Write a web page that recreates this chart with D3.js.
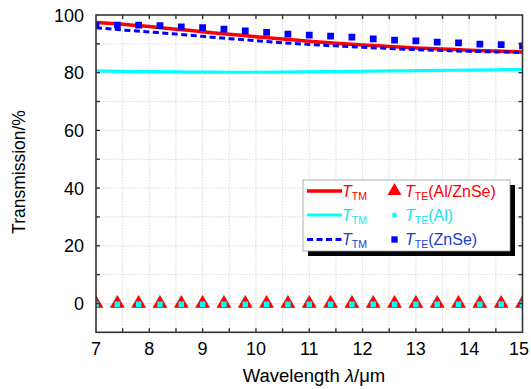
<!DOCTYPE html>
<html>
<head>
<meta charset="utf-8">
<script src="https://cdn.jsdelivr.net/npm/d3@7/dist/d3.min.js"></script>
<style>
  html, body { margin: 0; padding: 0; background: #fff; }
  svg { display: block; font-family: "Liberation Sans", Arial, sans-serif; }
</style>
</head>
<body>
<svg id="chart" width="531" height="389"></svg>
<script>
// Wavelength samples for the TM curves (µm)
const wavelength = [7, 7.5, 8, 8.5, 9, 9.5, 10, 10.5, 11, 11.5, 12, 12.5, 13, 13.5, 14, 14.5, 15];
// TM transmission (%)
const tmAlZnSe = [97.4, 96.8, 96.0, 95.1, 94.2, 93.3, 92.5, 91.7, 90.9, 90.2, 89.6, 89.1, 88.6, 88.2, 87.8, 87.5, 87.2];
const tmAl     = [80.6, 80.45, 80.35, 80.25, 80.2, 80.15, 80.15, 80.2, 80.3, 80.4, 80.5, 80.6, 80.7, 80.8, 80.9, 81.0, 81.1];
const tmZnSe   = [95.6, 94.8, 94.1, 93.4, 92.6, 91.8, 91.1, 90.4, 89.8, 89.3, 88.8, 88.4, 88.0, 87.7, 87.4, 87.2, 87.0];

// Wavelength samples for the TE markers (µm)
const markerWavelength = [7, 7.4, 7.8, 8.2, 8.6, 9, 9.4, 9.8, 10.2, 10.6, 11, 11.4, 11.8, 12.2, 12.6, 13, 13.4, 13.8, 14.2, 14.6, 15];
// TE transmission (%)
const teAlZnSe = [0, 0, 0, 0, 0, 0, 0, 0, 0, 0, 0, 0, 0, 0, 0, 0, 0, 0, 0, 0, 0];
const teAl     = [0, 0, 0, 0, 0, 0, 0, 0, 0, 0, 0, 0, 0, 0, 0, 0, 0, 0, 0, 0, 0];
const teZnSe   = [96.6, 96.5, 96.5, 96.3, 95.9, 95.6, 95.1, 94.5, 94.0, 93.4, 93.0, 92.7, 92.3, 91.7, 91.3, 91.0, 90.6, 90.3, 89.9, 89.7, 89.3];

// Axis ticks
const xTickLabels = [7, 8, 9, 10, 11, 12, 13, 14, 15];
const xMinorTicks = [7, 7.5, 8, 8.5, 9, 9.5, 10, 10.5, 11, 11.5, 12, 12.5, 13, 13.5, 14, 14.5, 15];
const yTickLabels = [0, 20, 40, 60, 80, 100];
const yMinorTicks = [-10, 0, 10, 20, 30, 40, 50, 60, 70, 80, 90, 100];

const RED = "#ff0000", CYAN = "#00ffff", BLUE = "#0000ff";
const CYAN_TEXT = "#22e0e8", BLUE_TEXT = "#1a3fd0";

const svg = d3.select("#chart");
const pL = 96, pR = 522.5, pT = 15, pB = 332.3;

const x = d3.scaleLinear().domain([7, 15]).range([pL, pR]);
const y = d3.scaleLinear().domain([-10, 100]).range([pB, pT]);

// clip region for data marks
svg.append("defs").append("clipPath").attr("id", "plotClip")
  .append("rect").attr("x", pL).attr("y", pT).attr("width", pR - pL).attr("height", pB - pT);

// dotted grid
const grid = svg.append("g");
grid.selectAll("line.vx").data(xMinorTicks.slice(1, -1)).join("line")
  .attr("x1", d => x(d)).attr("x2", d => x(d)).attr("y1", pT).attr("y2", pB)
  .attr("stroke", "#cfcfcf").attr("stroke-width", 0.8).attr("stroke-dasharray", "1.5,1.5");
grid.selectAll("line.hy").data(yMinorTicks.slice(1, -1)).join("line")
  .attr("x1", pL).attr("x2", pR).attr("y1", d => y(d)).attr("y2", d => y(d))
  .attr("stroke", "#cfcfcf").attr("stroke-width", 0.8).attr("stroke-dasharray", "1.5,1.5");

const plot = svg.append("g").attr("clip-path", "url(#plotClip)");

const line = (vals) => d3.line()
  .x((d, i) => x(wavelength[i]))
  .y(d => y(d))
  .curve(d3.curveMonotoneX)(vals);

plot.append("path").attr("d", line(tmAl)).attr("fill", "none").attr("stroke", CYAN).attr("stroke-width", 3.2);
plot.append("path").attr("d", line(tmAlZnSe)).attr("fill", "none").attr("stroke", RED).attr("stroke-width", 3.5);
plot.append("path").attr("d", line(tmZnSe)).attr("fill", "none").attr("stroke", BLUE).attr("stroke-width", 3)
  .attr("stroke-dasharray", "6,3.5");

// TE markers
const sq = (size) => d3.symbol().type(d3.symbolSquare).size(size)();
const tri = d3.symbol().type(d3.symbolTriangle).size(84)();

plot.selectAll("path.tz").data(teZnSe).join("path")
  .attr("d", sq(46))
  .attr("transform", (d, i) => `translate(${x(markerWavelength[i])},${y(d)})`)
  .attr("fill", BLUE);

plot.selectAll("path.ta").data(teAlZnSe).join("path")
  .attr("d", tri)
  .attr("transform", (d, i) => `translate(${x(markerWavelength[i])},${y(d)})`)
  .attr("fill", RED).attr("stroke", "#e00000").attr("stroke-width", 0.6);

plot.selectAll("path.tl").data(teAl).join("path")
  .attr("d", sq(30))
  .attr("transform", (d, i) => `translate(${x(markerWavelength[i])},${y(d) + 0.8})`)
  .attr("fill", CYAN);

// frame and ticks
const axes = svg.append("g").attr("stroke", "#333");
axes.append("rect").attr("x", pL).attr("y", pT).attr("width", pR - pL).attr("height", pB - pT)
  .attr("fill", "none").attr("stroke-width", 1.6);
const tl = 4;
axes.selectAll("line.bt").data(xMinorTicks.slice(1, -1)).join("line")
  .attr("x1", d => x(d)).attr("x2", d => x(d)).attr("y1", pB).attr("y2", pB - tl).attr("stroke-width", 1.4);
axes.selectAll("line.tt").data(xMinorTicks.slice(1, -1)).join("line")
  .attr("x1", d => x(d)).attr("x2", d => x(d)).attr("y1", pT).attr("y2", pT + tl).attr("stroke-width", 1.4);
axes.selectAll("line.lt").data(yMinorTicks.slice(1, -1)).join("line")
  .attr("x1", pL).attr("x2", pL + tl).attr("y1", d => y(d)).attr("y2", d => y(d)).attr("stroke-width", 1.4);
axes.selectAll("line.rt").data(yMinorTicks.slice(1, -1)).join("line")
  .attr("x1", pR).attr("x2", pR - tl).attr("y1", d => y(d)).attr("y2", d => y(d)).attr("stroke-width", 1.4);

// tick labels (the last one is kept inside the page edge)
svg.append("g").selectAll("text").data(xTickLabels).join("text")
  .attr("x", d => Math.min(x(d), 519)).attr("y", 355).attr("text-anchor", "middle")
  .attr("font-size", 18).attr("fill", "#000").text(d => d);
svg.append("g").selectAll("text").data(yTickLabels).join("text")
  .attr("x", 84).attr("y", d => y(d) + 6.5).attr("text-anchor", "end")
  .attr("font-size", 18).attr("fill", "#000").text(d => d);

// axis titles
const xt = svg.append("text").attr("x", 314).attr("y", 382).attr("text-anchor", "middle")
  .attr("font-size", 18.5).attr("fill", "#000");
xt.append("tspan").text("Wavelength ");
xt.append("tspan").attr("font-style", "italic").text("λ");
xt.append("tspan").text("/μm");

svg.append("text").attr("transform", "translate(25,172) rotate(-90)").attr("text-anchor", "middle")
  .attr("font-size", 17.5).attr("fill", "#000").text("Transmission/%");

// legend
const lg = svg.append("g");
const lx = 303, ly = 180, lw = 207, lh = 71;
lg.append("rect").attr("x", lx + 5).attr("y", ly + 5).attr("width", lw).attr("height", lh).attr("fill", "#000");
lg.append("rect").attr("x", lx).attr("y", ly).attr("width", lw).attr("height", lh)
  .attr("fill", "#fff").attr("stroke", "#999").attr("stroke-width", 0.8);

const rows = [
  { y: 191, color: RED, text: RED, dash: null, width: 3.5, marker: "tri", label: "(Al/ZnSe)" },
  { y: 215, color: CYAN, text: CYAN_TEXT, dash: null, width: 3.2, marker: "sqs", label: "(Al)" },
  { y: 239.5, color: BLUE, text: BLUE_TEXT, dash: "6,3.5", width: 3, marker: "sq", label: "(ZnSe)" }
];
rows.forEach(r => {
  lg.append("line").attr("x1", 307).attr("x2", 342).attr("y1", r.y).attr("y2", r.y)
    .attr("stroke", r.color).attr("stroke-width", r.width).attr("stroke-dasharray", r.dash);
  const t1 = lg.append("text").attr("x", 342).attr("y", r.y + 5.5).attr("fill", r.text).attr("font-size", 16);
  t1.append("tspan").attr("font-style", "italic").text("T");
  t1.append("tspan").attr("font-size", 10.5).attr("dy", 3).text("TM");
  let m;
  if (r.marker === "tri") m = lg.append("path").attr("d", tri).attr("fill", r.color);
  else if (r.marker === "sqs") m = lg.append("path").attr("d", sq(18)).attr("fill", r.color);
  else m = lg.append("path").attr("d", sq(40)).attr("fill", r.color);
  m.attr("transform", `translate(394.5,${r.y})`);
  const t2 = lg.append("text").attr("x", 405).attr("y", r.y + 5.5).attr("fill", r.text).attr("font-size", 16);
  t2.append("tspan").attr("font-style", "italic").text("T");
  t2.append("tspan").attr("font-size", 10.5).attr("dy", 3).text("TE");
  t2.append("tspan").attr("dy", -3).text(r.label);
});
</script>
</body>
</html>
